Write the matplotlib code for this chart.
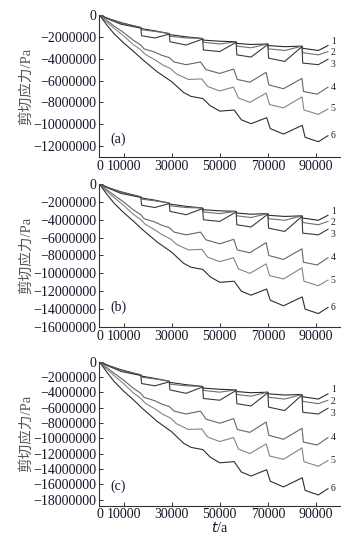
import matplotlib
matplotlib.use('Agg')
import matplotlib.pyplot as plt

plt.rcParams['font.family'] = ['Liberation Serif', 'Noto Sans CJK SC']
plt.rcParams['axes.unicode_minus'] = True

# x positions (years) for each curve
x_123 = [0, 4000, 9000, 17200, 17500, 23000, 29000, 29300, 36000, 42900, 43200, 50000,
         56800, 57100, 63000, 70000, 70300, 77000, 84200, 84500, 91000, 95000]
x_4 = [0, 3000, 6000, 10000, 14000, 17200, 18500, 23000, 26000, 29000, 31000, 36000, 42000,
       44300, 50000, 55800, 57300, 62500, 69300, 70400, 76500, 84200, 84800, 90500, 95000]
x_5 = [0, 3000, 6000, 10000, 14000, 17200, 19000, 23000, 26500, 29500, 32000, 37000, 42500,
       45000, 50000, 55700, 57800, 62500, 69300, 70700, 76500, 84200, 85000, 91000, 95000]
x_6 = [0, 3000, 6000, 10000, 14000, 18000, 24000, 30000, 35000, 38000, 43000, 46000, 50000,
       56000, 59000, 63000, 69500, 71000, 76500, 84300, 85500, 91000, 95000]

# shear stress in units of 1e6 Pa
# panel (a)
a1 = [0, -0.35, -0.7, -1.15, -1.25, -1.45, -1.7, -1.8, -2.0, -2.15, -2.3, -2.4, -2.45, -2.6, -2.7,
      -2.65, -2.8, -2.9, -2.85, -3.05, -3.25, -2.8]
a2 = [0, -0.37, -0.75, -1.15, -1.35, -1.5, -1.7, -1.95, -2.1, -2.15, -2.5, -2.65, -2.45, -2.85,
      -3.0, -2.65, -3.1, -3.25, -2.85, -3.45, -3.65, -3.35]
a3 = [0, -0.4, -0.85, -1.2, -1.9, -2.1, -1.75, -2.45, -2.75, -2.2, -3.2, -3.35, -2.5, -3.65,
      -3.85, -2.7, -3.95, -4.25, -2.9, -4.4, -4.55, -4.05]
a4 = [0, -0.5, -1.0, -1.6, -2.3, -2.75, -3.1, -3.4, -3.7, -3.9, -4.3, -4.55, -4.3, -5.0, -5.35,
      -4.95, -5.9, -6.15, -5.25, -6.4, -6.75, -5.8, -7.0, -7.25, -6.6]
a5 = [0, -0.65, -1.2, -1.9, -2.7, -3.2, -3.6, -4.1, -4.6, -4.9, -5.4, -5.9, -5.85, -6.55, -6.95,
      -6.6, -7.6, -8.0, -7.15, -8.2, -8.5, -7.5, -8.7, -9.1, -8.6]
a6 = [0, -0.9, -1.7, -2.55, -3.3, -4.1, -5.2, -6.1, -7.1, -7.45, -7.65, -8.3, -8.8, -8.7, -9.6,
      -9.95, -9.4, -10.4, -10.9, -10.1, -11.2, -11.6, -11.05]
# panel (b)
b1 = [0, -0.44, -0.88, -1.44, -1.56, -1.81, -2.13, -2.25, -2.5, -2.69, -2.88, -3.0, -3.06, -3.25,
      -3.38, -3.31, -3.5, -3.63, -3.56, -3.81, -4.06, -3.5]
b2 = [0, -0.46, -0.94, -1.44, -1.69, -1.88, -2.13, -2.44, -2.63, -2.69, -3.13, -3.31, -3.06, -3.56,
      -3.75, -3.31, -3.88, -4.06, -3.56, -4.31, -4.56, -4.19]
b3 = [0, -0.5, -1.06, -1.5, -2.38, -2.63, -2.19, -3.06, -3.44, -2.75, -4.0, -4.19, -3.13, -4.56,
      -4.81, -3.38, -4.94, -5.31, -3.63, -5.5, -5.69, -5.06]
b4 = [0, -0.63, -1.25, -2.0, -2.88, -3.44, -3.88, -4.25, -4.63, -4.88, -5.38, -5.69, -5.38, -6.25,
      -6.69, -6.19, -7.38, -7.69, -6.56, -8.0, -8.44, -7.25, -8.75, -9.06, -8.25]
b5 = [0, -0.81, -1.5, -2.38, -3.38, -4.0, -4.5, -5.13, -5.75, -6.13, -6.75, -7.38, -7.31, -8.19,
      -8.69, -8.25, -9.5, -10.0, -8.94, -10.25, -10.63, -9.38, -10.88, -11.38, -10.75]
b6 = [0, -1.13, -2.13, -3.19, -4.13, -5.13, -6.5, -7.63, -8.88, -9.31, -9.56, -10.38, -11.0, -10.88,
      -12.0, -12.44, -11.75, -13.0, -13.63, -12.63, -14.0, -14.5, -13.81]
# panel (c)
c1 = [0, -0.53, -1.05, -1.73, -1.88, -2.18, -2.55, -2.7, -3.0, -3.23, -3.45, -3.6, -3.68, -3.9,
      -4.05, -3.98, -4.2, -4.35, -4.28, -4.58, -4.88, -4.2]
c2 = [0, -0.56, -1.13, -1.73, -2.03, -2.25, -2.55, -2.93, -3.15, -3.23, -3.75, -3.98, -3.68, -4.28,
      -4.5, -3.98, -4.65, -4.88, -4.28, -5.18, -5.48, -5.03]
c3 = [0, -0.6, -1.28, -1.8, -2.85, -3.15, -2.63, -3.68, -4.13, -3.3, -4.8, -5.03, -3.75, -5.48,
      -5.78, -4.05, -5.93, -6.38, -4.35, -6.6, -6.83, -6.08]
c4 = [0, -0.75, -1.5, -2.4, -3.45, -4.13, -4.65, -5.1, -5.55, -5.85, -6.45, -6.83, -6.45, -7.5,
      -8.03, -7.43, -8.85, -9.23, -7.88, -9.6, -10.13, -8.7, -10.5, -10.88, -9.9]
c5 = [0, -0.98, -1.8, -2.85, -4.05, -4.8, -5.4, -6.15, -6.9, -7.35, -8.1, -8.85, -8.78, -9.83,
      -10.43, -9.9, -11.4, -12.0, -10.73, -12.3, -12.75, -11.25, -13.05, -13.65, -12.9]
c6 = [0, -1.35, -2.55, -3.83, -4.95, -6.15, -7.8, -9.15, -10.65, -11.18, -11.48, -12.45, -13.2,
      -13.05, -14.4, -14.93, -14.1, -15.6, -16.35, -15.15, -16.8, -17.4, -16.58]

panel_labels = ['(a)', '(b)', '(c)']
curve_names = ['1', '2', '3', '4', '5', '6']
yticks_list = [[0, -2, -4, -6, -8, -10, -12],
               [0, -2, -4, -6, -8, -10, -12, -14, -16],
               [0, -2, -4, -6, -8, -10, -12, -14, -16, -18]]
xticks = [0, 10000, 30000, 50000, 70000, 90000]

# layout / style
ylims = [-13.0, -16.0, -18.8]
colors = ['#2a2a2a', '#6e6e6e', '#3a3a3a', '#666666', '#858585', '#2e2e2e']
label_offsets = [3, -1, -3.5, 0, 0, 0]
tops = [15, 184, 361.7]
bottoms = [157, 327, 505.7]
left, right = 99.5 / 353, 340 / 353
tc = '#151528'

xs = [x_123, x_123, x_123, x_4, x_5, x_6]
panels = [[a1, a2, a3, a4, a5, a6], [b1, b2, b3, b4, b5, b6], [c1, c2, c3, c4, c5, c6]]

fig = plt.figure(figsize=(3.53, 5.40), dpi=100)
for i in range(3):
    b = 1 - bottoms[i] / 540
    h = (bottoms[i] - tops[i]) / 540
    ax = fig.add_axes([left, b, right - left, h])
    for k in range(6):
        yv = [v * 1e6 for v in panels[i][k]]
        ax.plot(xs[k], yv, color=colors[k], lw=0.8)
        ax.annotate(curve_names[k], xy=(xs[k][-1], yv[-1]), xytext=(2, label_offsets[k]),
                    textcoords='offset points', fontsize=7, color='#222',
                    va='center', ha='left', annotation_clip=False)
    ax.set_xlim(0, 100000)
    ax.set_ylim(ylims[i] * 1e6, 0)
    ax.set_yticks([t * 1e6 for t in yticks_list[i]])
    ax.set_yticklabels([('−' if t < 0 else '') + str(abs(t) * 1000000) for t in yticks_list[i]])
    ax.set_xticks(xticks)
    ax.set_xticklabels([str(t) for t in xticks])
    for s in ['top', 'right']:
        ax.spines[s].set_visible(False)
    for s in ['left', 'bottom']:
        ax.spines[s].set_color('#333')
        ax.spines[s].set_linewidth(0.8)
    ax.tick_params(direction='in', length=3, width=0.7, labelsize=10, colors='#333',
                   labelcolor=tc, pad=2)
    ax.set_ylabel('剪切应力/Pa', fontsize=10.5, color='#555', labelpad=0)
    ax.text(0.045, 0.1 if i == 0 else 0.11, panel_labels[i], transform=ax.transAxes,
            fontsize=10, color=tc)
ax.set_xlabel('$\\it{t}$/a', fontsize=10, color=tc, labelpad=0)
fig.savefig('out.png', dpi=100)
